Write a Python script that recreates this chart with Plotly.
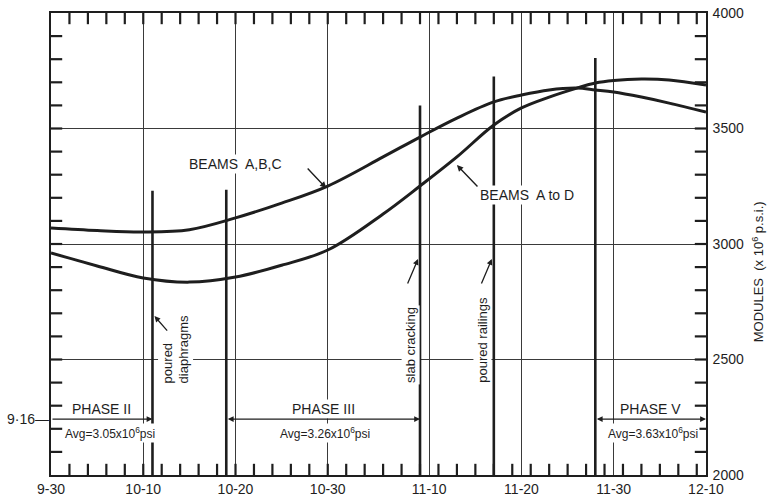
import plotly.graph_objects as go
from datetime import datetime, timedelta

YEAR = 1970
INK = "#1e1e1e"
GRID = "#3a3a3a"
FONT = "Liberation Sans"

# Modulus curves (x 10^6 psi readings, in thousands)
curve_dates = ["09-30", "10-05", "10-10", "10-15", "10-20", "10-25", "10-30",
               "11-05", "11-09", "11-13", "11-17", "11-20", "11-23", "11-26",
               "11-28", "11-30", "12-03", "12-06", "12-10"]
beams_abc = [3069, 3058, 3052, 3062, 3113, 3177, 3251, 3377, 3463, 3545,
             3615, 3645, 3667, 3675, 3667, 3658, 3636, 3610, 3571]
beams_a_to_d = [2961, 2905, 2853, 2835, 2857, 2908, 2974, 3130, 3251, 3377,
                3515, 3589, 3636, 3675, 3697, 3708, 3714, 3710, 3688]

# Axis ticks
x_tick_dates = ["09-30", "10-10", "10-20", "10-30", "11-10", "11-20", "11-30", "12-10"]
x_tick_text = ["9-30", "10-10", "10-20", "10-30", "11-10", "11-20", "11-30", "12-10"]
y_ticks = [2000, 2500, 3000, 3500, 4000]
y_minor_step = 100
x_minor_days = 2

# Construction events (vertical marker lines)
event_dates = ["10-11", "10-19", "11-09", "11-17", "11-28"]
event_tops = [3230, 3235, 3600, 3725, 3805]

# Test phases
phase_names = ["PHASE II", "PHASE III", "PHASE V"]
phase_start = ["09-30", "10-19", "11-28"]
phase_end = ["10-11", "11-09", "12-10"]
phase_avg = ["3.05", "3.26", "3.63"]
phase_first_day = "9·16"


def d(md):
    return f"{YEAR}-{md}"


def mid(a, b):
    da = datetime.strptime(d(a), "%Y-%m-%d")
    db = datetime.strptime(d(b), "%Y-%m-%d")
    m = da + (db - da) / 2
    return m.strftime("%Y-%m-%d %H:%M")


# graduation positions: every two days along x, every 100 along y
start = datetime.strptime(d("09-30"), "%Y-%m-%d")
end = datetime.strptime(d("12-10"), "%Y-%m-%d")
minor_x = []
t = start + timedelta(days=x_minor_days)
while t < end:
    minor_x.append(t.strftime("%Y-%m-%d"))
    t += timedelta(days=x_minor_days)
minor_y = list(range(y_ticks[0] + y_minor_step, y_ticks[-1], y_minor_step))

fig = go.Figure()

for vals in (beams_abc, beams_a_to_d):
    fig.add_trace(go.Scatter(
        x=[d(c) for c in curve_dates], y=vals, mode="lines",
        line=dict(color=INK, width=3.0, shape="spline", smoothing=1.0),
        hoverinfo="skip", showlegend=False))

# inward graduation marks on all four sides, drawn as short line markers
TL = 8
tick_marker_v = dict(symbol="line-ns", size=2 * TL, line=dict(color=INK, width=2.2))
tick_marker_h = dict(symbol="line-ew", size=2 * TL, line=dict(color=INK, width=2.2))
for yv in (y_ticks[0], y_ticks[-1]):
    fig.add_trace(go.Scatter(
        x=minor_x, y=[yv] * len(minor_x), mode="markers", marker=tick_marker_v,
        hoverinfo="skip", showlegend=False, cliponaxis=True))
for xv in (d("09-30"), d("12-10")):
    fig.add_trace(go.Scatter(
        x=[xv] * len(minor_y), y=minor_y, mode="markers", marker=tick_marker_h,
        hoverinfo="skip", showlegend=False, cliponaxis=True))

shapes = []
for ed, top in zip(event_dates, event_tops):
    shapes.append(dict(type="line", xref="x", yref="y", x0=d(ed), x1=d(ed),
                       y0=2000, y1=top, line=dict(color=INK, width=2.6),
                       layer="above"))

ann = []
txt = dict(font=dict(family=FONT, size=14, color=INK), showarrow=False,
           bgcolor="white", borderpad=1)

# Curve labels and pointers
ann.append(dict(x=d("10-20"), y=3346, text="BEAMS  A,B,C", **txt))
ann.append(dict(x=d("11-20"), y=3212, text="BEAMS  A to D", xshift=6, **txt))
ann.append(dict(x=d("10-29") + " 20:00", y=3242, ax=-20, ay=-21, text="",
                showarrow=True, arrowhead=2, arrowsize=0.9, arrowwidth=1.4,
                arrowcolor=INK))
ann.append(dict(x=d("11-13"), y=3342, ax=22, ay=23, text="",
                showarrow=True, arrowhead=2, arrowsize=0.9, arrowwidth=1.4,
                arrowcolor=INK))

# Event labels
rot = dict(font=dict(family=FONT, size=13, color=INK), showarrow=False,
           bgcolor="white", borderpad=1, textangle=-90, yanchor="bottom")
ann.append(dict(x=d(event_dates[0]), y=2390, text="poured<br>diaphragms",
                align="left", xanchor="left", xshift=5, **rot))
ann.append(dict(x=d(event_dates[2]), y=2390, text="slab cracking",
                xanchor="center", xshift=-9, **rot))
ann.append(dict(x=d(event_dates[3]), y=2390, text="poured railings",
                xanchor="center", xshift=-11, **rot))
for ed, ax, ay, yv in ((event_dates[0], 14, 16, 2688),
                       (event_dates[2], -11, 26, 2935),
                       (event_dates[3], -11, 26, 2935)):
    ann.append(dict(x=d(ed), y=yv, ax=ax, ay=ay, text="", xshift=2 if ax > 0 else -2,
                    showarrow=True, arrowhead=2, arrowsize=0.9, arrowwidth=1.3,
                    arrowcolor=INK))

# Phase spans
for i, (nm, s, e, avg) in enumerate(zip(phase_names, phase_start, phase_end, phase_avg)):
    m = mid(s, e)
    ann.append(dict(x=m, y=2286, text=nm, **txt))
    ann.append(dict(x=m, y=2182, xshift=8 if i == 0 else 2,
                    text=f"Avg={avg}x10<sup>6</sup>psi",
                    font=dict(family=FONT, size=12, color=INK), showarrow=False,
                    bgcolor="white", borderpad=1))
    ann.append(dict(x=d(e), y=2242, ax=d(s), ay=2242, axref="x", ayref="y",
                    text="", showarrow=True, arrowhead=2, arrowsize=0.9,
                    arrowwidth=1.3, arrowcolor=INK,
                    arrowside="end" if i == 0 else "end+start",
                    startarrowhead=2, startarrowsize=0.9))
ann.append(dict(xref="paper", x=0, y=2242, xanchor="right",
                text=phase_first_day + "—", showarrow=False,
                font=dict(family=FONT, size=14, color=INK)))

# Vertical axis title
ann.append(dict(xref="paper", yref="paper", x=1.094, y=0.44,
                text="MODULES  (x 10<sup>6</sup> p.s.i.)", textangle=-90,
                showarrow=False, font=dict(family=FONT, size=13, color=INK)))

frame = dict(showline=True, linecolor=INK, linewidth=1.6, zeroline=False,
             mirror=True, ticks="", automargin=False, showgrid=True,
             gridcolor=GRID, gridwidth=1.1,
             tickfont=dict(family=FONT, size=14, color=INK))

fig.update_layout(
    width=778, height=497,
    margin=dict(l=51, r=72, t=13, b=22),
    paper_bgcolor="white", plot_bgcolor="white",
    shapes=shapes, annotations=ann,
    xaxis=dict(type="date", range=[d("09-30"), d("12-10")],
               tickmode="array", tickvals=[d(t) for t in x_tick_dates],
               ticktext=x_tick_text, **frame),
    yaxis=dict(range=[2000, 4000], side="right", tickmode="array",
               tickvals=y_ticks, ticklabelstandoff=2, **frame),
)

fig.write_html("out.html")
